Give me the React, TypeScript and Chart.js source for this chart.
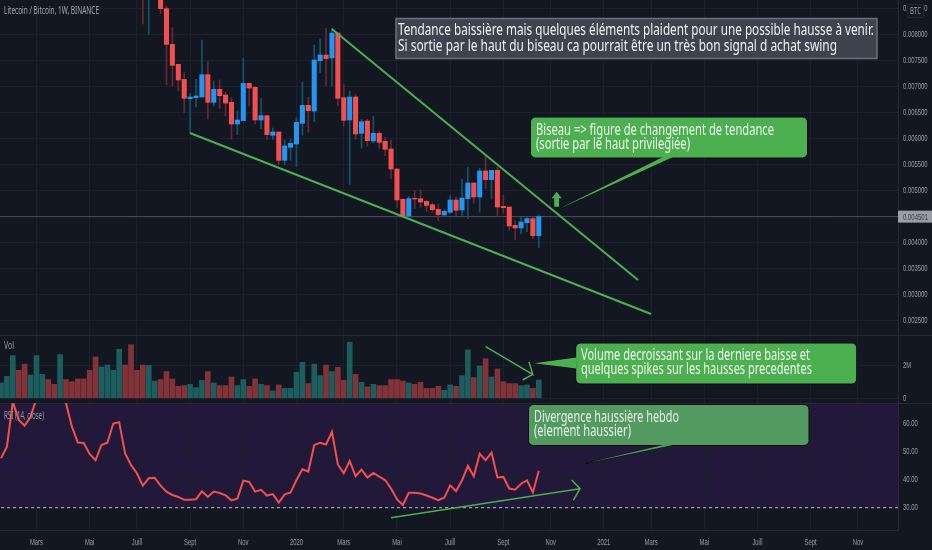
import React, { useEffect, useRef } from "react";
import { Chart, registerables } from "chart.js";

Chart.register(...registerables);

// Weekly candles of LTC/BTC in mBTC (0.001 BTC). Candle index = week index; the first visible candle is week 24.
const firstCandleWeek = 24;
const opens = [9.3, 8.9, 9.6, 9.2, 8.5, 7.814, 7.43, 7.141, 6.77, 6.789, 6.802, 7.231, 6.699, 6.949, 6.84, 6.699, 6.282, 6.347, 7.064, 6.988, 6.359, 6.443, 6.064, 6.129, 5.584, 5.834, 5.898, 6.295, 6.641, 6.532, 7.5, 7.609, 7.552, 8.032, 6.789, 6.359, 6.802, 6.103, 6.34, 5.956, 6.103, 5.949, 5.802, 5.417, 4.834, 4.513, 4.853, 4.847, 4.795, 4.731, 4.641, 4.533, 4.584, 4.821, 4.629, 4.847, 5.148, 4.879, 5.379, 5.212, 5.391, 4.699, 4.686, 4.334, 4.283, 4.385, 4.462, 4.135];
const closes = [8.9, 9.4, 9.2, 8.5, 7.814, 7.411, 7.129, 6.776, 6.802, 6.821, 7.231, 6.699, 6.949, 6.827, 6.686, 6.282, 6.359, 7.064, 6.975, 6.359, 6.443, 6.077, 6.129, 5.584, 5.859, 5.911, 6.315, 6.641, 6.539, 7.513, 7.609, 7.539, 8.032, 6.776, 6.353, 6.802, 6.09, 6.327, 5.962, 6.103, 5.93, 5.795, 5.417, 4.821, 4.52, 4.847, 4.84, 4.783, 4.718, 4.635, 4.539, 4.603, 4.821, 4.622, 4.859, 5.148, 4.879, 5.379, 5.212, 5.391, 4.686, 4.673, 4.321, 4.283, 4.398, 4.462, 4.135, 4.501];
const highs = [9.6, 9.6, 9.7, 9.3, 8.55, 8.135, 7.43, 7.27, 6.866, 7.141, 7.898, 7.494, 7.109, 7.129, 6.891, 6.789, 6.532, 7.552, 7.064, 7.0, 6.776, 6.443, 6.206, 6.129, 5.975, 5.988, 6.404, 7.09, 6.795, 7.802, 7.917, 8.122, 8.122, 8.032, 7.052, 6.917, 6.859, 6.372, 6.372, 6.43, 6.148, 6.026, 5.975, 5.417, 4.853, 4.885, 5.007, 5.013, 4.821, 4.757, 4.744, 4.629, 4.904, 4.885, 5.218, 5.456, 5.148, 5.43, 5.654, 5.391, 5.456, 4.917, 4.686, 4.424, 4.488, 4.488, 4.5, 4.532];
const lows = [8.205, 8.0, 8.9, 8.411, 7.032, 7.013, 6.917, 6.494, 6.116, 6.609, 6.802, 6.379, 6.629, 6.584, 6.436, 5.988, 6.077, 6.347, 6.629, 6.282, 6.193, 5.988, 5.988, 5.507, 5.494, 5.584, 5.468, 6.071, 6.129, 6.327, 7.27, 7.013, 7.013, 6.629, 6.244, 5.122, 5.988, 5.815, 5.859, 5.924, 5.815, 5.673, 5.238, 4.68, 4.5, 4.5, 4.654, 4.68, 4.603, 4.584, 4.423, 4.5, 4.565, 4.52, 4.526, 4.462, 4.757, 4.59, 5.039, 4.84, 4.52, 4.565, 4.244, 4.052, 4.167, 4.212, 4.071, 3.904];
const lastPrice = 4.501;

// Volume in millions, one per week, and its direction.
const volumes = [0.94, 1.35, 2.62, 1.72, 2.09, 1.43, 2.62, 1.47, 1.15, 0.86, 2.68, 1.15, 1.02, 1.19, 1.19, 1.72, 2.54, 1.92, 2.04, 1.72, 3.01, 2.04, 3.29, 1.72, 2.04, 2.02, 1.06, 1.15, 1.64, 1.19, 0.74, 0.78, 0.86, 0.65, 1.1, 1.64, 0.94, 0.78, 0.78, 1.31, 0.78, 1.15, 0.74, 1.19, 0.86, 0.78, 0.45, 0.82, 0.61, 0.61, 1.6, 2.21, 0.9, 2.09, 1.39, 2.04, 1.64, 1.9, 1.1, 3.44, 1.47, 0.98, 0.7, 0.86, 0.78, 0.78, 1.15, 1.15, 1.06, 0.94, 0.86, 0.98, 0.61, 0.61, 0.74, 0.49, 0.82, 0.74, 1.39, 2.97, 1.27, 1.98, 2.43, 1.31, 1.8, 1.02, 0.9, 0.9, 0.78, 0.82, 0.61, 1.12];
const volumeDirections = ["uuudduuudd", "udddddduuu", "udddduuddd", "dduuududdd", "uuddududuu", "uuduududdu", "dududddddu", "ddddduuduu", "dududddduu", "du"].join("");
const rsiValues = [47.5, 51.6, 67.5, 61.1, 59.0, 62.2, 68.7, 72.3, 75.8, 75.8, 71.1, 67.0, 58.7, 53.1, 52.9, 49.0, 46.8, 52.2, 53.0, 59.8, 60.3, 49.2, 45.1, 42.2, 37.8, 40.4, 40.6, 37.8, 35.7, 34.5, 33.8, 32.8, 32.8, 33.0, 35.8, 33.8, 35.7, 35.2, 34.4, 32.6, 33.2, 39.6, 39.1, 35.7, 36.3, 34.3, 34.8, 31.8, 34.7, 35.4, 39.8, 43.6, 42.8, 52.2, 53.0, 52.4, 56.9, 45.3, 42.2, 46.5, 41.2, 43.5, 40.7, 42.3, 41.0, 39.8, 36.8, 33.0, 30.9, 35.3, 35.3, 35.0, 34.3, 33.5, 32.7, 33.5, 37.9, 35.9, 39.6, 44.8, 41.1, 49.1, 46.8, 49.5, 40.7, 40.9, 36.8, 36.4, 38.5, 39.7, 35.4, 43.1];

const priceTicks = [8.5, 8, 7.5, 7, 6.5, 6, 5.5, 5, 4, 3.5, 3, 2.5];
const volumeTicks = [0, 2];
const rsiTicks = [60, 50, 40, 30];
const timeTickWeeks = [6, 15, 23, 32, 41, 50, 58, 67, 76, 85, 93, 102, 110, 119, 128, 137, 145];
const timeTickLabels = ["Mars", "Mai", "Juill", "Sept", "Nov", "2020", "Mars", "Mai", "Juill", "Sept", "Nov", "2021", "Mars", "Mai", "Juill", "Sept", "Nov"];

// Drawn trend lines and arrows, in week / price, week / volume, week / RSI.
const upperWedge = [{ x: 56, y: 8.11 }, { x: 107.8, y: 3.283 }];
const lowerWedge = [{ x: 31.98, y: 6.11 }, { x: 110, y: 2.629 }];
const volumeArrow = [{ x: 82, y: 3.166 }, { x: 89.97, y: 1.472 }, { x: 89.34, y: 2.245 }, { x: 89.97, y: 1.472 }, { x: 88.27, y: 1.123 }];
const rsiArrow = [{ x: 65.99, y: 26.46 }, { x: 97.97, y: 36.73 }, { x: 96.57, y: 39.8 }, { x: 97.97, y: 36.73 }, { x: 96.84, y: 32.6 }];

const titleLines = ["Tendance baissière mais quelques éléments plaident pour une possible hausse à venir.", "Si sortie par le haut du biseau ca pourrait être un très bon signal d achat swing"];
const wedgeLines = ["Biseau => figure de changement de tendance", "(sortie par le haut privilegiée)"];
const volumeLines = ["Volume decroissant sur la derniere baisse et", "quelques spikes sur les hausses precedentes"];
const rsiLines = ["Divergence haussière hebdo", "(element haussier)"];

const BG = "#131722";
const GRID = "#1c202c";
const AXIS = "#262a35";
const TICK = "#9a9da6";
const GREEN = "#4caf50";
const TEXT_FONT = '"Noto Sans", sans-serif';
const TICK_FONT = '"Liberation Sans", sans-serif';
const TICK_SQUEEZE = 0.62;

function fitText(ctx: CanvasRenderingContext2D, text: string, x: number, y: number, width: number, font: string, color: string) {
  ctx.save();
  ctx.font = font;
  ctx.fillStyle = color;
  ctx.textAlign = "left";
  ctx.textBaseline = "middle";
  const w = ctx.measureText(text).width;
  ctx.translate(x, y);
  ctx.scale(width / w, 1);
  ctx.fillText(text, 0, 0);
  ctx.restore();
}

function callout(ctx: CanvasRenderingContext2D, box: number[], pointer: number[][], fill: string) {
  const [x0, y0, x1, y1] = box;
  ctx.save();
  ctx.lineWidth = 1;
  ctx.strokeStyle = "#0b0d12";
  ctx.fillStyle = fill;
  const tri = () => {
    ctx.beginPath();
    ctx.moveTo(pointer[0][0], pointer[0][1]);
    ctx.lineTo(pointer[1][0], pointer[1][1]);
    ctx.lineTo(pointer[2][0], pointer[2][1]);
    ctx.closePath();
  };
  tri();
  ctx.fill();
  ctx.stroke();
  ctx.beginPath();
  ctx.roundRect(x0, y0, x1 - x0, y1 - y0, 5);
  ctx.fill();
  ctx.stroke();
  tri();
  ctx.fill();
  ctx.restore();
}

// The reference's axis labels are horizontally condensed; no narrow font is installed,
// so each scale's own label drawing runs with a fillText that squeezes around its anchor.
function squeezeScaleLabels(chart: any) {
  Object.values(chart.scales).forEach((s: any) => {
    if (s.__squeezed) return;
    s.__squeezed = true;
    const drawLabels = s.drawLabels.bind(s);
    s.drawLabels = (area: any) => {
      const ctx = s.ctx;
      const fill = ctx.fillText;
      ctx.fillText = function (text: string, x: number, y: number) {
        ctx.save();
        ctx.translate(x, y);
        ctx.scale(TICK_SQUEEZE, 1);
        fill.call(ctx, text, 0, 0);
        ctx.restore();
      };
      drawLabels(area);
      delete ctx.fillText;
    };
  });
}

const panesPlugin = {
  id: "panes",
  beforeDraw(chart: any) {
    const { ctx, width, height, scales } = chart;
    squeezeScaleLabels(chart);
    ctx.save();
    ctx.fillStyle = BG;
    ctx.fillRect(0, 0, width, height);
    ctx.fillStyle = "#21183a";
    const top = scales.rsi.top;
    ctx.fillRect(0, top, chart.chartArea.right, scales.rsi.getPixelForValue(30) - top);
    ctx.restore();
  },
  beforeDatasetsDraw(chart: any) {
    const { ctx, scales } = chart;
    ctx.save();
    ctx.strokeStyle = AXIS;
    ctx.lineWidth = 1;
    [scales.volume.top, scales.rsi.top].forEach((y: number) => {
      ctx.beginPath();
      ctx.moveTo(0, Math.round(y) + 0.5);
      ctx.lineTo(chart.width, Math.round(y) + 0.5);
      ctx.stroke();
    });
    ctx.restore();
  },
  beforeDatasetDraw(chart: any, args: any) {
    const { ctx, chartArea } = chart;
    const s = args.meta.yScale;
    ctx.save();
    ctx.beginPath();
    ctx.rect(chartArea.left, s.top, chartArea.right - chartArea.left, s.bottom - s.top);
    ctx.clip();
  },
  afterDatasetDraw(chart: any) {
    chart.ctx.restore();
  },
  afterDraw(chart: any) {
    const { ctx, scales } = chart;
    const right = chart.chartArea.right;

    fitText(ctx, "Litecoin / Bitcoin, 1W, BINANCE", 4, 11, 95, `10px ${TEXT_FONT}`, "#a3a6af");
    fitText(ctx, "Vol", 4, 346.5, 10, `10px ${TEXT_FONT}`, "#9598a1");
    fitText(ctx, "RSI (14, close)", 4, 416, 40, `10px ${TEXT_FONT}`, "#9598a1");

    // last price tag
    const ly = scales.y.getPixelForValue(lastPrice);
    ctx.fillStyle = "#9a9da6";
    ctx.fillRect(right, ly - 6, chart.width - right, 12);
    fitText(ctx, (lastPrice / 1000).toFixed(6), right + 5, ly + 0.5, 25, `9.5px ${TICK_FONT}`, "#3c3f49");

    // currency badge
    ctx.save();
    ctx.fillStyle = BG;
    ctx.strokeStyle = AXIS;
    ctx.beginPath();
    ctx.roundRect(907.5, 4.5, 16, 13, 2);
    ctx.fill();
    ctx.stroke();
    ctx.restore();
    fitText(ctx, "BTC", 910, 11, 11, `9px ${TEXT_FONT}`, "#a3a6af");

    // title box
    ctx.save();
    ctx.fillStyle = "#3f434f";
    ctx.strokeStyle = "#6d717c";
    ctx.lineWidth = 1.5;
    ctx.fillRect(396, 18.5, 481, 40);
    ctx.strokeRect(396, 18.5, 481, 40);
    ctx.restore();
    const big = `16px ${TEXT_FONT}`;
    fitText(ctx, titleLines[0], 398, 30, 476, big, "#f0f1f3");
    fitText(ctx, titleLines[1], 398, 46.7, 439, big, "#f0f1f3");

    // wedge callout
    callout(ctx, [530.5, 117, 807.5, 158], [[663, 157], [556.7, 210], [673, 157]], GREEN);
    fitText(ctx, wedgeLines[0], 536, 130, 238, big, "#eef6ee");
    fitText(ctx, wedgeLines[1], 536, 144.3, 154, big, "#eef6ee");

    // up arrow
    ctx.save();
    ctx.fillStyle = GREEN;
    ctx.beginPath();
    [[556.7, 191.7], [561.7, 198.3], [559, 198.3], [559, 206.7], [554.2, 206.7], [554.2, 198.3], [551.7, 198.3]].forEach((p, i) => (i ? ctx.lineTo(p[0], p[1]) : ctx.moveTo(p[0], p[1])));
    ctx.closePath();
    ctx.fill();
    ctx.restore();

    // volume callout
    callout(ctx, [575.7, 343, 856.7, 384], [[576.5, 357.5], [534, 363.3], [576.5, 368.5]], GREEN);
    fitText(ctx, volumeLines[0], 581, 355.7, 229, big, "#eef6ee");
    fitText(ctx, volumeLines[1], 581, 369.3, 231, big, "#eef6ee");

    // RSI callout
    callout(ctx, [528.5, 404.5, 809, 445.5], [[663, 445], [586, 463.3], [673, 445]], "#529a5f");
    fitText(ctx, rsiLines[0], 534, 417.7, 145, big, "#e6efe7");
    fitText(ctx, rsiLines[1], 534, 431, 97, big, "#e6efe7");
  },
};

const candleWeeks = opens.map((_, i) => i + firstCandleWeek);

export default function App() {
  const ref = useRef<HTMLCanvasElement>(null);
  useEffect(() => {
    document.body.style.margin = "0";
    const up = (i: number) => closes[i] >= opens[i];
    const tickFont = { family: TICK_FONT, size: 9.5 };
    const fixWidth = (s: any) => { s.width = 34; s.paddingTop = 0; s.paddingBottom = 0; s.paddingLeft = 0; s.paddingRight = 0; };
    const overlay = (data: any[], color: string, width: number, yAxisID: string, order: number, extra: any = {}) => ({
      type: "line", data, borderColor: color, borderWidth: width, pointRadius: 0, yAxisID, order, tension: 0, ...extra,
    });
    const chart = new Chart(ref.current as HTMLCanvasElement, {
      type: "bar",
      data: {
        datasets: [
          {
            data: candleWeeks.map((x, i) => ({ x, y: [lows[i], highs[i]] })),
            backgroundColor: candleWeeks.map((_, i) => (up(i) ? "#10566a" : "#622b36")),
            barThickness: 1, grouped: false, yAxisID: "y", order: 8,
          },
          {
            data: candleWeeks.map((x, i) => ({ x, y: [opens[i], closes[i]] })),
            backgroundColor: candleWeeks.map((_, i) => (up(i) ? "#2196f3" : "#f44f4f")),
            barThickness: 4.4, grouped: false, yAxisID: "y", order: 7,
          },
          {
            data: volumes.map((y, x) => ({ x, y })),
            backgroundColor: volumes.map((_, i) => (volumeDirections[i] === "u" ? "#1c5e5e" : "#813339")),
            barThickness: 5, grouped: false, yAxisID: "volume", order: 7,
          },
          overlay([{ x: -1, y: lastPrice }, { x: 152, y: lastPrice }], "#4d515d", 1, "y", 9),
          overlay([{ x: -1, y: 30 }, { x: 152, y: 30 }], "#a0a0a8", 1.2, "rsi", 6, { borderDash: [3, 3] }),
          overlay(rsiValues.map((y, x) => ({ x, y })), "#f44f4f", 2, "rsi", 5),
          overlay(upperWedge, GREEN, 2, "y", 4),
          overlay(lowerWedge, GREEN, 2, "y", 4),
          overlay(volumeArrow, GREEN, 1.5, "volume", 4),
          overlay(rsiArrow, GREEN, 1.5, "rsi", 4),
        ] as any,
      },
      options: {
        responsive: false,
        devicePixelRatio: 1,
        animation: false,
        layout: { padding: 0 },
        plugins: { legend: { display: false }, tooltip: { enabled: false } },
        scales: {
          x: {
            type: "linear",
            offset: false,
            min: -0.169,
            max: 151.78,
            afterBuildTicks: (s: any) => { s.ticks = timeTickWeeks.map((value) => ({ value })); },
            afterFit: (s: any) => { s.height = 20; s.paddingLeft = 0; s.paddingRight = 0; s.paddingTop = 0; s.paddingBottom = 0; },
            grid: { color: GRID, drawTicks: false, offset: false },
            border: { color: AXIS },
            ticks: {
              autoSkip: false, maxRotation: 0, padding: 6.5, color: TICK, font: tickFont,
              callback: (v: any) => timeTickLabels[timeTickWeeks.indexOf(v)],
            },
          },
          y: {
            position: "right", stack: "panes", stackWeight: 335, weight: 0,
            min: 2.225, max: 8.667,
            afterBuildTicks: (s: any) => { s.ticks = priceTicks.map((value) => ({ value })); },
            afterFit: fixWidth,
            grid: { color: GRID, drawTicks: false },
            border: { color: AXIS },
            ticks: { autoSkip: false, padding: 5, color: TICK, font: tickFont, callback: (v: any) => (v / 1000).toFixed(6) },
          },
          volume: {
            position: "right", stack: "panes", stackWeight: 68, weight: 1,
            min: -0.288, max: 3.883,
            afterBuildTicks: (s: any) => { s.ticks = volumeTicks.map((value) => ({ value })); },
            afterFit: fixWidth,
            grid: { color: GRID, drawTicks: false },
            border: { color: AXIS },
            ticks: { autoSkip: false, padding: 5, color: TICK, font: tickFont, callback: (v: any) => (v ? `${v}M` : "0") },
          },
          rsi: {
            position: "right", stack: "panes", stackWeight: 127, weight: 2,
            min: 22.1, max: 67.07,
            afterBuildTicks: (s: any) => { s.ticks = rsiTicks.map((value) => ({ value })); },
            afterFit: fixWidth,
            grid: { color: GRID, drawTicks: false },
            border: { color: AXIS },
            ticks: { autoSkip: false, padding: 5, color: TICK, font: tickFont, callback: (v: any) => Number(v).toFixed(2) },
          },
        },
      } as any,
      plugins: [panesPlugin as any],
    });
    return () => chart.destroy();
  }, []);
  return <canvas ref={ref} width={932} height={550} style={{ display: "block" }} />;
}
